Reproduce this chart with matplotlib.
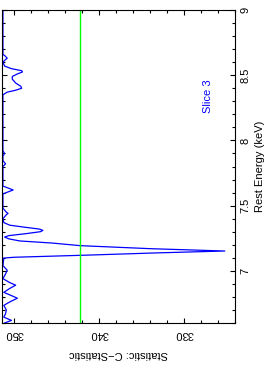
import matplotlib.pyplot as plt
from matplotlib.ticker import MultipleLocator, FuncFormatter

# 데이터
energy = [6.60, 6.62, 6.645, 6.67, 6.70, 6.735, 6.765, 6.79, 6.81, 6.835,
          6.865, 6.89, 6.91, 6.94, 6.975, 7.005, 7.04, 7.098, 7.104, 7.121,
          7.137, 7.152, 7.17, 7.193, 7.213, 7.229, 7.245, 7.259, 7.27, 7.285,
          7.30, 7.31, 7.32, 7.335, 7.35, 7.37, 7.40, 7.43, 7.44, 7.45,
          7.48, 7.59, 7.61, 7.62, 7.63, 7.65, 7.80, 7.82, 7.845, 7.88,
          7.90, 7.92, 8.35, 8.37, 8.385, 8.40, 8.415, 8.44, 8.47, 8.49,
          8.51, 8.525, 8.535, 8.55, 8.57, 8.60, 8.62, 8.63, 8.645, 8.66,
          9.00]
cstat = [351.1, 350.3, 351.2, 351.0, 350.9, 351.2, 350.4, 349.6, 350.3, 351.2,
         350.5, 349.8, 350.5, 351.3, 351.0, 350.8, 351.3, 351.2, 350.0, 341.1,
         333.5, 325.2, 334.0, 342.2, 345.5, 349.3, 350.6, 351.1, 350.6, 348.6,
         346.9, 346.6, 347.0, 348.8, 350.5, 351.2, 351.3, 350.9, 350.7, 350.9,
         351.3, 351.3, 350.5, 350.1, 350.5, 351.3, 351.3, 351.0, 351.3, 351.3,
         351.1, 351.3, 351.3, 350.8, 349.8, 349.1, 349.2, 349.8, 350.2, 350.2,
         349.6, 349.0, 349.1, 350.3, 351.1, 351.3, 351.0, 350.8, 351.0, 351.3,
         351.3]
threshold = 342.2
slice_label = "Slice 3"

plt.rcParams['font.family'] = ['Liberation Sans', 'DejaVu Sans']
plt.rcParams['font.size'] = 8

fig = plt.figure(figsize=(2.65, 3.79), dpi=100)
ax = fig.add_axes([2 / 265, 1 - 323 / 379, 233 / 265, 313 / 379])

# 회전된 플롯: 세로축 = 에너지, 가로축 = C-statistic
ax.plot(cstat, energy, color='#0000ff', lw=0.9)
ax.axvline(threshold, color='#00ff00', lw=1.0)

ax.set_xlim(351.41, 324.0)
ax.set_ylim(6.6, 9.0)

ax.xaxis.set_major_locator(MultipleLocator(10))
ax.xaxis.set_minor_locator(MultipleLocator(2))
ax.yaxis.set_major_locator(MultipleLocator(0.5))
ax.yaxis.set_minor_locator(MultipleLocator(0.1))
ax.xaxis.set_major_formatter(FuncFormatter(lambda v, p: f"{v:g}"))
ax.yaxis.set_major_formatter(FuncFormatter(lambda v, p: f"{v:g}"))

ax.tick_params(which='both', direction='in', top=True, bottom=True,
               left=True, right=True, labelleft=False, labelright=True,
               width=0.8)
ax.tick_params(which='major', length=3.6, pad=4)
ax.tick_params(which='minor', length=1.9)
for lab in ax.get_xticklabels():
    lab.set_rotation(180)
for lab in ax.get_yticklabels():
    lab.set_rotation(90)
    lab.set_va('center')

for s in ax.spines.values():
    s.set_linewidth(0.8)

ax.set_xlabel("Statistic: C\u2212Statistic", rotation=180)
ax.xaxis.set_label_coords(0.5, -0.082)
ax.yaxis.set_label_position('right')
ax.set_ylabel("Rest Energy (keV)", rotation=90)
ax.yaxis.set_label_coords(1.085, 0.5)

ax.text(327.2, 8.34, slice_label, color='#0000ff', rotation=90,
        ha='center', va='center', fontsize=8)

fig.savefig("out.png", dpi=100)
